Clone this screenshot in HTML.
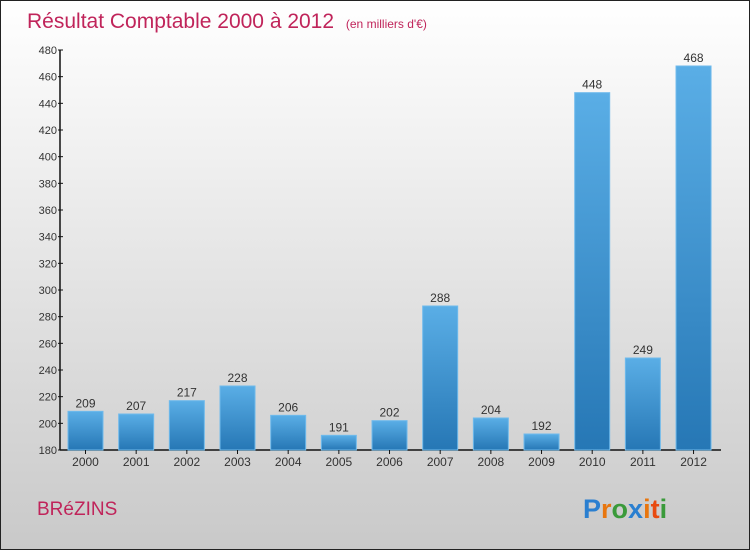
<!DOCTYPE html>
<html><head><meta charset="utf-8"><style>
body{margin:0}
#wrap{position:relative;width:748px;height:548px;border:1px solid #222;background:linear-gradient(#fff,#c9c9c9);font-family:"Liberation Sans",sans-serif;overflow:hidden}
</style></head><body>
<div id="wrap">
<svg id="chart" width="748" height="548">
<defs><linearGradient id="bg" x1="0" y1="0" x2="0" y2="1"><stop offset="0" stop-color="#5aaee6"/><stop offset="1" stop-color="#2677b5"/></linearGradient></defs>
<text x="26" y="27" font-size="21" fill="#c0245a">Résultat Comptable 2000 à 2012 <tspan font-size="12" dx="6">(en milliers d'€)</tspan></text>
<text x="36" y="514" font-size="19" fill="#c0245a">BRéZINS</text>
<text x="582" y="517" font-size="27" font-weight="bold"><tspan fill="#2a7fd0">P</tspan><tspan fill="#e8760e">r</tspan><tspan fill="#3a9a3a">o</tspan><tspan fill="#2a7fd0">x</tspan><tspan fill="#e8760e">i</tspan><tspan fill="#e84a10">t</tspan><tspan fill="#3a9a3a">i</tspan></text>
<g id="plot"></g>
</svg>
</div>
<script>
const categories=["2000","2001","2002","2003","2004","2005","2006","2007","2008","2009","2010","2011","2012"];
const values=[209,207,217,228,206,191,202,288,204,192,448,249,468];
const ticks=[180,200,220,240,260,280,300,320,340,360,380,400,420,440,460,480];
const NS="http://www.w3.org/2000/svg";
const g=document.getElementById("plot");
const y0=449,yTop=49,vMin=180,vMax=480;
const y=v=>y0-(v-vMin)*(y0-yTop)/(vMax-vMin);
const x=i=>84.5+i*50.67;
function mk(t,a){const e=document.createElementNS(NS,t);for(const k in a)e.setAttribute(k,a[k]);g.appendChild(e);return e;}
let ax=mk("line",{x1:59,y1:yTop,x2:59,y2:y0,stroke:"#111","stroke-width":1.5});


let bx=mk("line",{x1:59,y1:y0,x2:720,y2:y0,stroke:"#111","stroke-width":1.5});


ticks.forEach(t=>{
 const tl=mk("line",{x1:57,y1:y(t),x2:62,y2:y(t),stroke:"#111"});
 
 
 const tx=mk("text",{x:56,y:y(t)+4,"text-anchor":"end","font-size":11,fill:"#333"});
 tx.textContent=t;
 
 
});
categories.forEach((c,i)=>{
 const v=values[i];
 const r=mk("rect",{x:x(i)-17.5,y:y(v),width:35,height:y0-y(v),fill:"url(#bg)",stroke:"#6fbaec","stroke-width":1});
 
 
 const vl=mk("text",{x:x(i),y:y(v)-4,"text-anchor":"middle","font-size":12,fill:"#333"});
 vl.textContent=v;
 
 
 const tk=mk("line",{x1:x(i),y1:y0,x2:x(i),y2:y0+4,stroke:"#111"});
 
 
 const cl=mk("text",{x:x(i),y:y0+16,"text-anchor":"middle","font-size":12,fill:"#333"});
 cl.textContent=c;
 
 
});
</script>
</body></html>
